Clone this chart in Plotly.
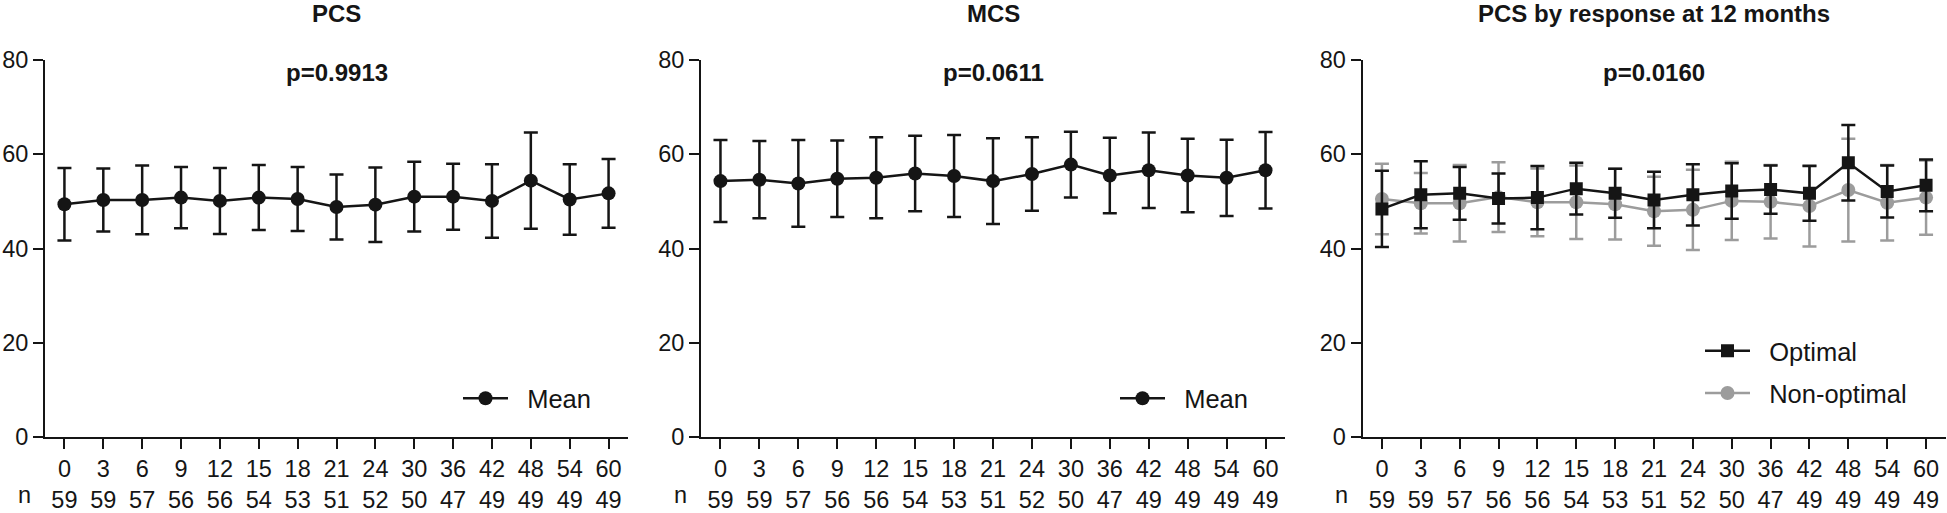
import plotly.graph_objects as go

# ---------------- data ----------------
months = ["0", "3", "6", "9", "12", "15", "18", "21", "24", "30", "36", "42", "48", "54", "60"]
n_counts = [59, 59, 57, 56, 56, 54, 53, 51, 52, 50, 47, 49, 49, 49, 49]

pcs_mean = [49.4, 50.3, 50.3, 50.8, 50.1, 50.8, 50.5, 48.8, 49.3, 51.0, 51.0, 50.1, 54.4, 50.4, 51.7]
pcs_sd = [7.7, 6.7, 7.3, 6.5, 7.0, 6.9, 6.8, 6.9, 7.9, 7.4, 7.0, 7.8, 10.2, 7.5, 7.3]

mcs_mean = [54.3, 54.6, 53.8, 54.8, 55.0, 55.9, 55.4, 54.3, 55.8, 57.8, 55.5, 56.6, 55.5, 55.0, 56.6]
mcs_sd = [8.7, 8.2, 9.2, 8.1, 8.6, 8.0, 8.7, 9.1, 7.8, 7.0, 8.0, 8.0, 7.8, 8.1, 8.1]

opt_mean = [48.4, 51.4, 51.7, 50.6, 50.8, 52.7, 51.7, 50.3, 51.4, 52.2, 52.5, 51.7, 58.2, 52.1, 53.4]
opt_sd = [8.1, 7.1, 5.6, 5.3, 6.7, 5.5, 5.2, 6.0, 6.5, 5.9, 5.1, 5.8, 8.0, 5.5, 5.5]

non_mean = [50.5, 49.6, 49.6, 50.9, 49.8, 49.8, 49.4, 47.9, 48.2, 50.1, 49.9, 49.0, 52.4, 49.7, 50.8]
non_sd = [7.5, 6.4, 8.1, 7.4, 7.2, 7.8, 7.5, 7.3, 8.5, 8.3, 7.8, 8.6, 10.9, 8.0, 7.9]

titles = ["PCS", "MCS", "PCS by response at 12 months"]
p_values = ["p=0.9913", "p=0.0611", "p=0.0160"]
y_ticks = [0, 20, 40, 60, 80]

# ---------------- style ----------------
W, H = 1947, 513
BLACK = "#151515"
GREY = "#9c9c9c"
FONT = "Arial, Liberation Sans, Helvetica, sans-serif"
GAP = "&nbsp;&nbsp;"  # extra space between legend symbol and label
tick_text = [f"{m}<br>{c}" for m, c in zip(months, n_counts)]

x_domains = [(45 / W, 628 / W), (701 / W, 1285 / W), (1362.5 / W, 1945.5 / W)]

fig = go.Figure()


def err(sd, color):
    return dict(type="data", array=sd, symmetric=True, color=color, thickness=2.5, width=7)


fig.add_trace(go.Scatter(
    x=months, y=pcs_mean, error_y=err(pcs_sd, BLACK), mode="lines+markers",
    line=dict(color=BLACK, width=2.5), marker=dict(symbol="circle", size=14, color=BLACK),
    name=GAP + "Mean", xaxis="x", yaxis="y", legend="legend"))

fig.add_trace(go.Scatter(
    x=months, y=mcs_mean, error_y=err(mcs_sd, BLACK), mode="lines+markers",
    line=dict(color=BLACK, width=2.5), marker=dict(symbol="circle", size=14, color=BLACK),
    name=GAP + "Mean", xaxis="x2", yaxis="y2", legend="legend2"))

fig.add_trace(go.Scatter(
    x=months, y=non_mean, error_y=err(non_sd, GREY), mode="lines+markers",
    line=dict(color=GREY, width=2.5), marker=dict(symbol="circle", size=14, color=GREY),
    name=GAP + "Non-optimal", xaxis="x3", yaxis="y3", legend="legend3", legendrank=2,
    legendgroup="non"))

fig.add_trace(go.Scatter(
    x=months, y=opt_mean, error_y=err(opt_sd, BLACK), mode="lines+markers",
    line=dict(color=BLACK, width=2.5), marker=dict(symbol="square", size=13, color=BLACK),
    name=GAP + "Optimal", xaxis="x3", yaxis="y3", legend="legend3", legendrank=1,
    legendgroup="opt"))

axis_common = dict(showline=True, linecolor=BLACK, linewidth=2, ticks="outside",
                   ticklen=10, tickwidth=2, tickcolor=BLACK, showgrid=False, zeroline=False,
                   tickfont=dict(family=FONT, size=23.5, color=BLACK))

layout = dict(
    width=W, height=H, autosize=False,
    margin=dict(l=0, r=0, t=60, b=69, pad=0),
    paper_bgcolor="white", plot_bgcolor="white",
    font=dict(family=FONT, color=BLACK),
    showlegend=True,
)

suffix = ["", "2", "3"]
for i, s in enumerate(suffix):
    layout["xaxis" + s] = dict(axis_common, domain=x_domains[i], anchor="y" + s,
                               type="category", range=[-0.5, 14.5],
                               tickvals=months, ticktext=tick_text)
    layout["yaxis" + s] = dict(axis_common, domain=[0, 1], anchor="x" + s,
                               range=[0, 80], tickvals=y_ticks)

legend_common = dict(font=dict(family=FONT, size=25.5, color=BLACK), bgcolor="rgba(0,0,0,0)",
                     borderwidth=0, xanchor="left", yanchor="middle", itemwidth=45)
layout["legend"] = dict(legend_common, x=458 / W, y=(444 - 405) / 384)
layout["legend2"] = dict(legend_common, x=1115 / W, y=(444 - 405) / 384)
layout["legend3"] = dict(legend_common, x=1700 / W, y=(444 - 378) / 384, tracegroupgap=6)

fig.update_layout(**layout)

annotations = []
for i, s in enumerate(suffix):
    annotations.append(dict(text=f"<b>{titles[i]}</b>", xref=f"x{s} domain", yref=f"y{s} domain",
                            x=0.5, y=1, yshift=62, showarrow=False, xanchor="center", yanchor="top",
                            font=dict(family=FONT, size=24, color=BLACK)))
    annotations.append(dict(text=f"<b>{p_values[i]}</b>", xref=f"x{s} domain", yref=f"y{s} domain",
                            x=0.5, y=1, yshift=-12, showarrow=False, xanchor="center", yanchor="middle",
                            font=dict(family=FONT, size=24, color=BLACK)))
    annotations.append(dict(text="n", xref=f"x{s} domain", yref=f"y{s} domain",
                            x=-0.0353, y=0, yshift=-58, showarrow=False, xanchor="center", yanchor="middle",
                            font=dict(family=FONT, size=23.5, color=BLACK)))
fig.update_layout(annotations=annotations)

fig.write_html("out.html", config={"displayModeBar": False},
               post_script="document.body.style.margin='0';document.body.style.padding='0';"
                           "document.body.style.overflow='hidden';")
